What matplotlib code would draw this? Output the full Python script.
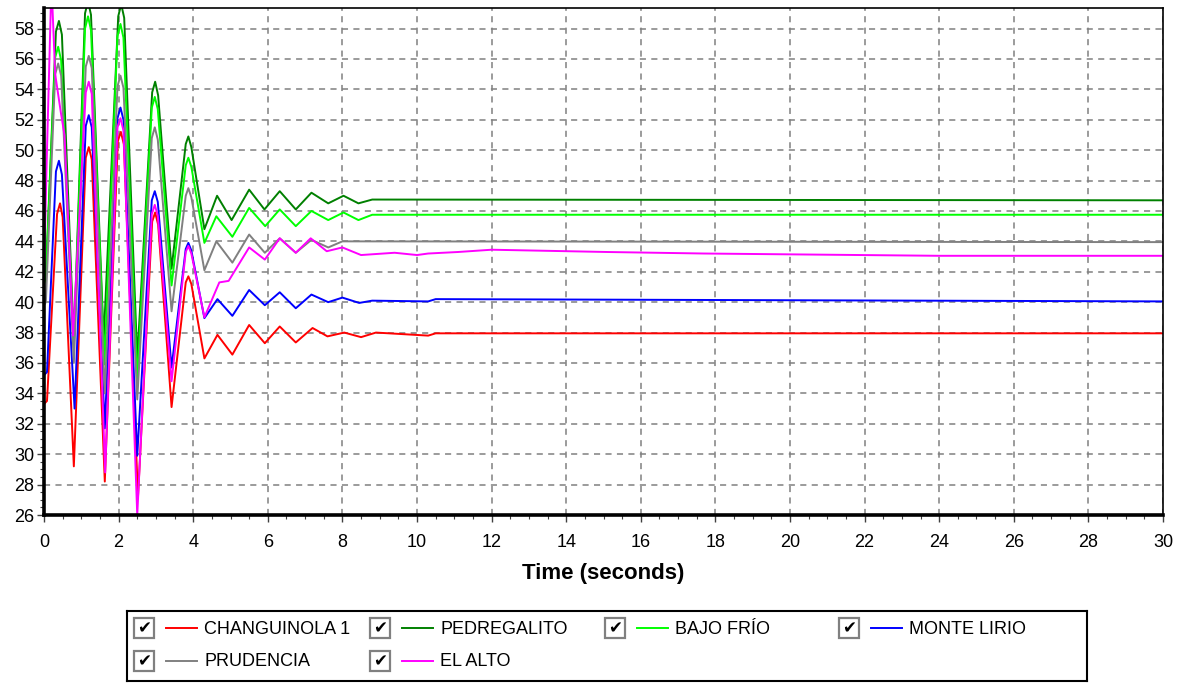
import matplotlib

matplotlib.use("Agg")
import matplotlib.pyplot as plt
from matplotlib.patches import Rectangle
from matplotlib.ticker import MultipleLocator

plt.rcParams["font.family"] = ["Liberation Sans", "DejaVu Sans"]

# ---- data (time in s, value) ----
T_CHANG = [0, 0.08, 0.35, 0.43, 0.5, 0.8, 1.12, 1.2, 1.28, 1.63, 1.98, 2.06, 2.14, 2.52,
           2.9, 2.98, 3.06, 3.42, 3.8, 3.87, 3.95, 4.3, 4.65,
           5.05, 5.5, 5.92, 6.32, 6.75, 7.2, 7.6, 8.05, 8.5, 8.9, 9.6, 10.3, 10.5, 30]
V_CHANG = [33.3, 33.5, 45.8, 46.5, 45.6, 29.2, 49.5, 50.2, 49.4, 28.2, 50.6, 51.2, 50.4, 27.2,
           45.3, 45.9, 45.1, 33.1, 41.3, 41.7, 41.2, 36.3, 37.85,
           36.55, 38.5, 37.3, 38.4, 37.35, 38.3, 37.75, 38.0, 37.7, 38.0, 37.9, 37.8, 37.95, 37.95]

T_PEDRE = [0, 0.05, 0.32, 0.4, 0.48, 0.8, 1.1, 1.18, 1.26, 1.6, 1.99, 2.07, 2.15, 2.5,
           2.9, 2.98, 3.06, 3.42, 3.8, 3.87, 3.95, 4.3, 4.64,
           5.03, 5.5, 5.91, 6.32, 6.75, 7.17, 7.62, 8.03, 8.43, 8.8, 30]
V_PEDRE = [41.5, 41.8, 57.8, 58.5, 57.6, 37.4, 59.0, 59.8, 58.9, 37.5, 58.8, 59.6, 58.7, 36.3,
           53.8, 54.5, 53.6, 42.2, 50.4, 50.9, 50.2, 44.8, 47.0,
           45.4, 47.4, 46.1, 47.3, 46.1, 47.2, 46.5, 47.0, 46.5, 46.75, 46.7]

T_BAJO = [0, 0.05, 0.3, 0.38, 0.46, 0.8, 1.1, 1.18, 1.26, 1.62, 1.97, 2.05, 2.13, 2.5,
          2.89, 2.97, 3.05, 3.42, 3.8, 3.87, 3.95, 4.3, 4.62,
          5.05, 5.5, 5.93, 6.32, 6.75, 7.17, 7.62, 8.03, 8.43, 8.8, 30]
V_BAJO = [41.2, 41.6, 56.1, 56.8, 55.9, 37.0, 58.0, 58.8, 57.9, 35.9, 57.5, 58.3, 57.4, 34.9,
          52.8, 53.5, 52.7, 41.1, 49.0, 49.5, 48.9, 43.9, 45.65,
          44.3, 46.2, 45.0, 46.1, 45.0, 46.0, 45.4, 45.9, 45.4, 45.75, 45.75]

T_MONTE = [0, 0.08, 0.32, 0.4, 0.48, 0.82, 1.12, 1.2, 1.28, 1.63, 1.97, 2.05, 2.13, 2.5,
           2.89, 2.97, 3.05, 3.42, 3.8, 3.87, 3.95, 4.3, 4.65,
           5.05, 5.5, 5.92, 6.32, 6.75, 7.17, 7.62, 8.0, 8.45, 8.8, 10.3, 10.5, 30]
V_MONTE = [35.2, 35.4, 48.6, 49.3, 48.4, 33.0, 51.6, 52.3, 51.5, 31.7, 52.1, 52.8, 52.0, 29.9,
           46.7, 47.3, 46.6, 35.7, 43.5, 43.9, 43.4, 38.95, 40.2,
           39.1, 40.8, 39.8, 40.65, 39.6, 40.5, 40.0, 40.3, 39.95, 40.1, 40.05, 40.2, 40.05]

T_PRUD = [0, 0.05, 0.3, 0.38, 0.46, 0.8, 1.12, 1.2, 1.28, 1.63, 1.97, 2.05, 2.13, 2.5,
          2.89, 2.97, 3.05, 3.42, 3.8, 3.87, 3.95, 4.3, 4.62,
          5.05, 5.5, 5.92, 6.32, 6.75, 7.17, 7.62, 8.0, 30]
V_PRUD = [39.8, 40.0, 55.0, 55.7, 54.9, 36.0, 55.5, 56.2, 55.4, 34.0, 54.2, 54.9, 54.1, 33.6,
          50.8, 51.5, 50.7, 39.4, 47.0, 47.5, 46.9, 42.1, 44.0,
          42.6, 44.45, 43.25, 44.2, 43.25, 44.1, 43.6, 44.0, 43.95]

T_ALTO = [0, 0.08, 0.2, 0.3, 0.45, 0.55, 0.78, 1.12, 1.2, 1.28, 1.64, 1.97, 2.05, 2.13, 2.5,
          2.89, 2.97, 3.05, 3.42, 3.8, 3.87, 3.95,
          4.3, 4.7, 4.95, 5.2, 5.5, 5.92, 6.32, 6.75, 7.15, 7.58, 8.0, 8.5, 9.4, 10.0,
          10.3, 11.1, 12.0, 15.1, 17.7, 24.0, 30]
V_ALTO = [41.9, 50.0, 61.0, 55.0, 52.5, 51.0, 37.8, 53.8, 54.5, 53.7, 28.8, 51.5, 52.1, 51.3, 26.0,
          45.8, 46.4, 45.7, 34.8, 43.3, 43.7, 43.2,
          39.0, 41.3, 41.4, 42.4, 43.6, 42.8, 44.2, 43.25, 44.2, 43.35, 43.6, 43.1, 43.25, 43.1,
          43.2, 43.3, 43.45, 43.3, 43.2, 43.05, 43.05]

NAMES = ["CHANGUINOLA 1", "PEDREGALITO", "BAJO FRÍO", "MONTE LIRIO", "PRUDENCIA", "EL ALTO"]
COLORS = ["#ff0000", "#008000", "#00ff00", "#0000ff", "#808080", "#ff00ff"]
SERIES = [(T_CHANG, V_CHANG), (T_PEDRE, V_PEDRE), (T_BAJO, V_BAJO),
          (T_MONTE, V_MONTE), (T_PRUD, V_PRUD), (T_ALTO, V_ALTO)]

W, H = 1180, 683
fig = plt.figure(figsize=(W / 100, H / 100), dpi=100)
ax = fig.add_axes([44 / W, 1 - 515 / H, (1163 - 44) / W, (515 - 8) / H])

for (t, v), c in zip(SERIES, COLORS):
    ax.plot(t, v, color=c, lw=1.4)

ax.set_xlim(0, 30)
ax.set_ylim(26, 59.35)
ax.xaxis.set_major_locator(MultipleLocator(2))
ax.xaxis.set_minor_locator(MultipleLocator(0.5))
ax.yaxis.set_major_locator(MultipleLocator(2))
ax.yaxis.set_minor_locator(MultipleLocator(0.5))
ax.tick_params(which="major", length=5, width=1, labelsize=13, color="#404040")
ax.tick_params(axis="x", which="major", pad=9)
ax.tick_params(axis="y", which="major", pad=2)
ax.tick_params(which="minor", length=3, width=0.8, color="#404040")
ax.grid(True, which="major", color="#808080", ls=(0, (4, 3.5)), lw=1.1)
ax.set_axisbelow(True)
for side in ("left", "bottom"):
    ax.spines[side].set_linewidth(2.6)
for side in ("top", "right"):
    ax.spines[side].set_linewidth(1.2)
ax.set_xlabel("Time (seconds)", fontsize=16, fontweight="bold", labelpad=8)

# ---- legend box with checkboxes ----
lg = fig.add_axes([127 / W, 2 / H, 960 / W, 70 / H])
lg.set_xlim(0, 960)
lg.set_ylim(70, 0)
lg.set_xticks([])
lg.set_yticks([])
for s in lg.spines.values():
    s.set_linewidth(1.5)

col_x = [7, 243, 478, 712]
row_y = [17, 50]
for i, (name, c) in enumerate(zip(NAMES, COLORS)):
    x0 = col_x[i % 4]
    y0 = row_y[i // 4]
    lg.add_patch(Rectangle((x0, y0 - 10), 20, 20, facecolor="white",
                           edgecolor="#808080", lw=1.6))
    lg.text(x0 + 10, y0 + 0.5, "✔", ha="center", va="center", fontsize=12,
            color="black", family="DejaVu Sans")
    lg.plot([x0 + 32, x0 + 63], [y0, y0], color=c, lw=1.4)
    lg.text(x0 + 70, y0 + 1, name, ha="left", va="center", fontsize=13)

fig.savefig("out.png", dpi=100, facecolor="white")
